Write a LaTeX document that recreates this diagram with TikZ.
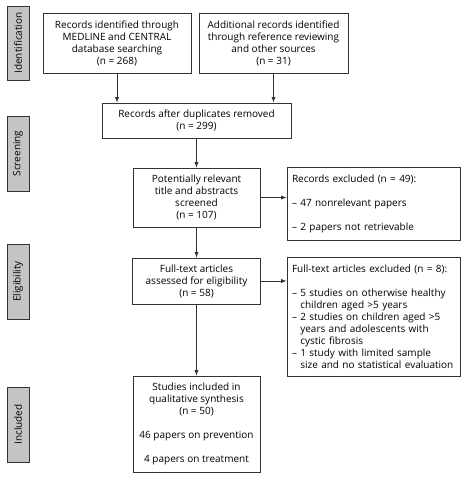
\documentclass[tikz,border=0pt]{standalone}
\usepackage{fontspec}
\setmainfont{Open Sans}
\usepackage{tikz}
\usetikzlibrary{
  positioning,
  calc
}
\usetikzlibrary{arrows}

\begin{document}
\begin{tikzpicture}[x=1pt,y=1pt,
  box/.style={draw=black!80,line width=0.9pt,fill=white,inner sep=0pt,
    font=\fontsize{10}{12}\selectfont},
  sidebox/.style={draw=black!80,line width=0.9pt,fill=black!23,inner sep=0pt,
    rotate=90,font=\fontsize{10}{12}\selectfont},
  arr/.style={draw=black!80,line width=0.9pt,-latex}
]
\useasboundingbox (0,0) rectangle (465,-481);
% phase labels
\node[sidebox,minimum width=74,minimum height=22] (sideid) at (18,-43) {Identification};
\node[sidebox,minimum width=75,minimum height=22] (sidescr) at (18,-153.5) {Screening};
\node[sidebox,minimum width=75,minimum height=22] (sideelig) at (18,-281.5) {Eligibility};
\node[sidebox,minimum width=75,minimum height=22] (sideincl) at (18,-424.5) {Included};
% main boxes
\node[box,minimum width=148,minimum height=60,align=center] (medline) at (117,-43)
  {Records identified through\\MEDLINE and CENTRAL\\database searching\\(n = 268)};
\node[box,minimum width=149,minimum height=60,align=center] (other) at (273.5,-43)
  {Additional records identified\\through reference reviewing\\and other sources\\(n = 31)};
\node[box,minimum width=189,minimum height=35,align=center] (dupl) at (196.5,-120.5)
  {Records after duplicates removed\\(n = 299)};
\node[box,minimum width=127,minimum height=59,align=center] (screened) at (196.5,-197.5)
  {Potentially relevant\\title and abstracts\\screened\\(n = 107)};
\node[box,minimum width=128,minimum height=46,align=center] (fulltext) at (196.5,-281)
  {Full-text articles\\assessed for eligibility\\(n = 58)};
\node[box,minimum width=127,minimum height=96,align=center] (included) at (196.5,-424)
  {Studies included in\\qualitative synthesis\\(n = 50)\\[12pt]46 papers on prevention\\[12pt]4 papers on treatment};
\node[box,minimum width=173,minimum height=73,text width=163,align=left] (excl) at (373.5,-203.5)
  {Records excluded (n = 49):\\[12pt]-- 47 nonrelevant papers\\[12pt]-- 2 papers not retrievable};
\node[box,minimum width=173,minimum height=119,text width=163,align=left] (exclft) at (373.5,-316.5)
  {Full-text articles excluded (n = 8):\\[12pt]
   -- 5 studies on otherwise healthy\\\hphantom{-- }children aged >5 years\\
   -- 2 studies on children aged >5\\\hphantom{-- }years and adolescents with\\\hphantom{-- }cystic fibrosis\\
   -- 1 study with limited sample\\\hphantom{-- }size and no statistical evaluation};
% connectors
\draw[arr] (medline.south) -- (medline.south |- dupl.north);
\draw[arr] (other.south) -- (other.south |- dupl.north);
\draw[arr] (dupl) -- (screened);
\draw[arr] (screened) -- (fulltext);
\draw[arr] (fulltext) -- (included);
\draw[arr] (screened.east) -- (screened.east -| excl.west);
\draw[arr] (fulltext.east) -- (fulltext.east -| exclft.west);
\end{tikzpicture}
\end{document}
